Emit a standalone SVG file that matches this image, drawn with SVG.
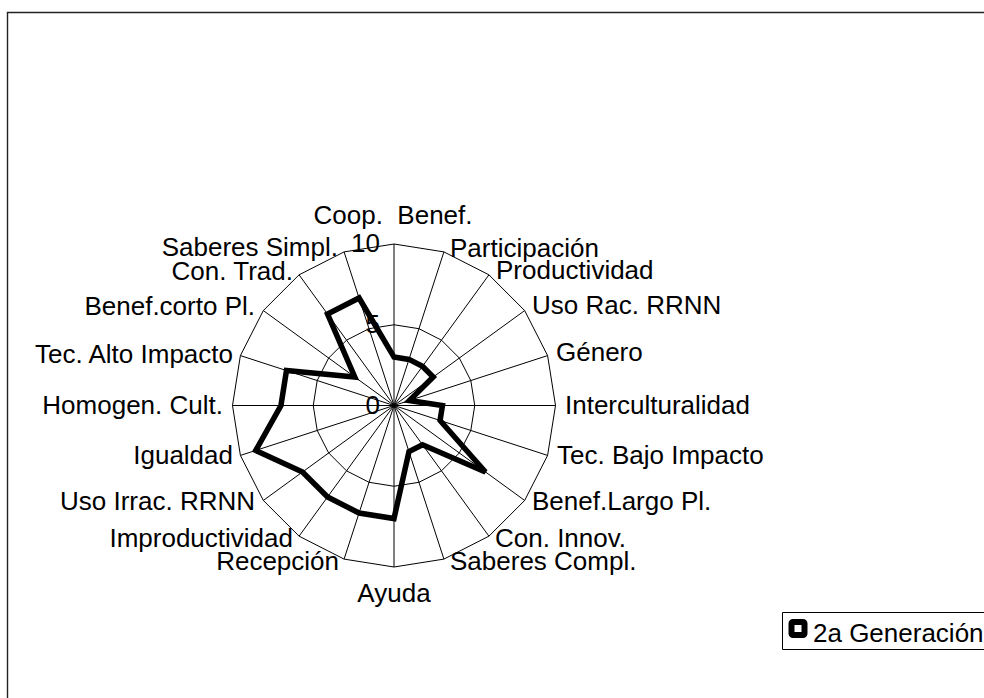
<svg xmlns="http://www.w3.org/2000/svg" width="984" height="698" viewBox="0 0 984 698">
  <style>
    text { font-family: "Liberation Sans", Arial, sans-serif; font-size: 26px; fill: #000; }
    .st { text-anchor: start; }
    .en { text-anchor: end; }
    .mi { text-anchor: middle; }
    .grid { fill: none; stroke: #000; stroke-width: 1; }
    .series { fill: none; stroke: #000; stroke-width: 5.5; stroke-linejoin: miter; stroke-miterlimit: 3; }
  </style>
  <rect width="984" height="698" fill="#fff"/>
  <g id="frame">
    <path d="M7.5,700 V12.5 H990" fill="none" stroke="#222" stroke-width="1.4"/>
  </g>
  <g id="grid">
    <polygon class="grid" points="394,244 443.91,251.90 488.93,274.84 524.66,310.57 547.60,355.59 555.5,405.5 547.60,455.41 524.66,500.43 488.93,536.16 443.91,559.10 394,567 344.09,559.10 299.07,536.16 263.34,500.43 240.40,455.41 232.5,405.5 240.40,355.59 263.34,310.57 299.07,274.84 344.09,251.90"/>
    <polygon class="grid" points="394,324.75 418.95,328.70 441.46,340.17 459.33,358.04 470.80,380.55 474.75,405.5 470.80,430.45 459.33,452.96 441.46,470.83 418.95,482.30 394,486.25 369.05,482.30 346.54,470.83 328.67,452.96 317.20,430.45 313.25,405.5 317.20,380.55 328.67,358.04 346.54,340.17 369.05,328.70"/>
    <path class="grid" d="M394,405.5 L394,244 M394,405.5 L443.91,251.90 M394,405.5 L488.93,274.84 M394,405.5 L524.66,310.57 M394,405.5 L547.60,355.59 M394,405.5 L555.5,405.5 M394,405.5 L547.60,455.41 M394,405.5 L524.66,500.43 M394,405.5 L488.93,536.16 M394,405.5 L443.91,559.10 M394,405.5 L394,567 M394,405.5 L344.09,559.10 M394,405.5 L299.07,536.16 M394,405.5 L263.34,500.43 M394,405.5 L240.40,455.41 M394,405.5 L232.5,405.5 M394,405.5 L240.40,355.59 M394,405.5 L263.34,310.57 M394,405.5 L299.07,274.84 M394,405.5 L344.09,251.90"/>
  </g>
  <g id="value-axis-labels">
    <text class="en" x="380" y="252">10</text>
    <text class="en" x="380" y="333">5</text>
    <text class="en" x="380" y="414">0</text>
  </g>
  <g id="category-labels">
    <text class="mi" x="393" y="224" xml:space="preserve">Coop.  Benef.</text>
    <text class="st" x="450" y="257">Participación</text>
    <text class="st" x="496" y="279">Productividad</text>
    <text class="st" x="532" y="314">Uso Rac. RRNN</text>
    <text class="st" x="556" y="361">Género</text>
    <text class="st" x="565" y="414">Interculturalidad</text>
    <text class="st" x="557" y="464">Tec. Bajo Impacto</text>
    <text class="st" x="532" y="510">Benef.Largo Pl.</text>
    <text class="st" x="495" y="547">Con. Innov.</text>
    <text class="st" x="450" y="570">Saberes Compl.</text>
    <text class="mi" x="394" y="602">Ayuda</text>
    <text class="en" x="339" y="570">Recepción</text>
    <text class="en" x="293" y="547">Improductividad</text>
    <text class="en" x="255" y="510">Uso Irrac. RRNN</text>
    <text class="en" x="233" y="464">Igualdad</text>
    <text class="en" x="223" y="414">Homogen. Cult.</text>
    <text class="en" x="233" y="363">Tec. Alto Impacto</text>
    <text class="en" x="255" y="315">Benef.corto Pl.</text>
    <text class="en" x="293" y="280">Con. Trad.</text>
    <text class="en" x="338" y="256">Saberes Simpl.</text>
  </g>
  <g id="series-2a-generacion">
    <polygon class="series" points="394,357.05 408.97,359.42 422.48,366.30 433.20,377.02 409.36,400.51 442.45,405.5 440.08,420.47 485.46,471.95 422.48,444.70 408.97,451.58 394,518.55 359.07,513.02 327.55,496.96 302.54,471.95 255.76,450.42 280.95,405.5 286.48,370.57 354.80,377.02 327.55,314.04 359.07,297.98"/>
  </g>
  <g id="legend">
    <path d="M990,612.5 H782.5 V649.5 H990" fill="#fff" stroke="#000" stroke-width="1"/>
    <rect x="791.5" y="622" width="13" height="13" rx="1.5" fill="#fff" stroke="#000" stroke-width="6" stroke-linejoin="round"/>
    <text class="st" x="813" y="642">2a Generación</text>
  </g>
</svg>
